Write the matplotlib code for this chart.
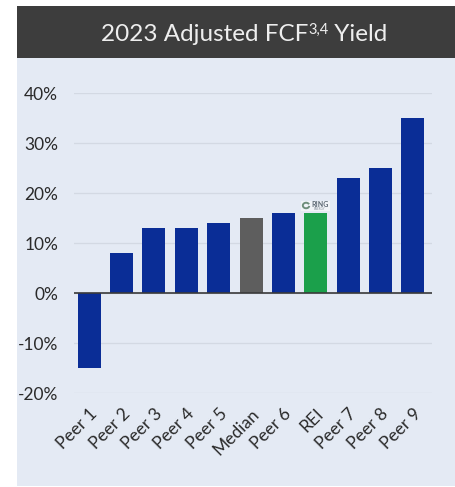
import matplotlib
matplotlib.use("Agg")
import matplotlib.pyplot as plt
from matplotlib.patches import Rectangle, Arc
from matplotlib.ticker import FuncFormatter

# Data
categories = ["Peer 1", "Peer 2", "Peer 3", "Peer 4", "Peer 5", "Median",
              "Peer 6", "REI", "Peer 7", "Peer 8", "Peer 9"]
yield_pct = [-15, 8, 13, 13, 14, 15, 16, 16, 23, 25, 35]
y_ticks = [-20, -10, 0, 10, 20, 30, 40]

BLUE = "#0a2d96"
GRAY = "#5e5e5e"
GREEN = "#1ba04b"
PANEL = "#e4eaf4"
HEADER = "#3d3d3d"

plt.rcParams["font.family"] = ["Lato", "DejaVu Sans"]

fig = plt.figure(figsize=(4.56, 4.87), dpi=100, facecolor="white")
W, H = 456, 487

def fx(x):
    return x / W

def fy(y):
    return 1 - y / H

# Background panel and header band
fig.patches.append(Rectangle((fx(17), fy(486)), fx(455) - fx(17), fy(58) - fy(486),
                             transform=fig.transFigure, facecolor=PANEL,
                             edgecolor="none", zorder=-2))
fig.patches.append(Rectangle((fx(17), fy(58)), fx(455) - fx(17), fy(6) - fy(58),
                             transform=fig.transFigure, facecolor=HEADER,
                             edgecolor="none", zorder=-1))

# Title assembled from pieces so the superscript sits tight
renderer = fig.canvas.get_renderer()
title_parts = [("2023 Adjusted FCF", 17.5, 0), ("3,4", 10.5, 7), (" Yield", 17.5, 0)]
widths = []
for txt, size, _ in title_parts:
    t = fig.text(0, 0, txt, fontsize=size)
    widths.append(t.get_window_extent(renderer).width)
    t.remove()
x0 = 244 - sum(widths) / 2
for (txt, size, dy), w in zip(title_parts, widths):
    fig.text(fx(x0), fy(41 - dy), txt, color="#eeeeee", fontsize=size,
             ha="left", va="baseline")
    x0 += w

ax = fig.add_axes([fx(74), fy(393), fx(432) - fx(74), fy(93) - fy(393)])
ax.set_facecolor("none")

colors = []
for c in categories:
    if c == "Median":
        colors.append(GRAY)
    elif c == "REI":
        colors.append(GREEN)
    else:
        colors.append(BLUE)

x = list(range(len(categories)))
ax.bar(x, yield_pct, width=0.71, color=colors, zorder=3)

ax.set_ylim(-20, 40)
ax.set_xlim(-0.47, len(categories) - 1 + 0.59)
ax.set_yticks(y_ticks)
ax.yaxis.set_major_formatter(FuncFormatter(lambda v, p: f"{int(v)}%"))
ax.grid(axis="y", color="#d3d9e3", linewidth=0.9, zorder=0)
ax.axhline(0, color="#3a3a3a", linewidth=1.2, zorder=4)

for s in ax.spines.values():
    s.set_visible(False)
ax.tick_params(axis="both", length=0, colors="#2a2a2a")
ax.tick_params(axis="y", pad=11.5, labelsize=12.5)
ax.set_xticks(x)
ax.set_xticklabels(categories, rotation=45, ha="right", rotation_mode="anchor")
ax.tick_params(axis="x", pad=9, labelsize=12.5)

# Small company logo above the REI bar
rei = categories.index("REI")
logo_y = 17.4
ax.add_patch(Rectangle((rei - 0.45, logo_y - 0.9), 0.9, 1.9, facecolor="#f1f4f8",
                       edgecolor="none", zorder=4))
ax.add_patch(Arc((rei - 0.3, logo_y + 0.1), 0.2, 1.1, theta1=70, theta2=320,
                 color="#6f8f7c", linewidth=1.4, zorder=5))
ax.text(rei + 0.12, logo_y + 0.25, "RING", fontsize=5, color="#5a6672",
        ha="center", va="center", fontweight="bold", zorder=5)
ax.text(rei + 0.12, logo_y - 0.55, "ENERGY", fontsize=2.2, color="#8a949e",
        ha="center", va="center", zorder=5)

fig.savefig("out.png", dpi=100, facecolor="white")
